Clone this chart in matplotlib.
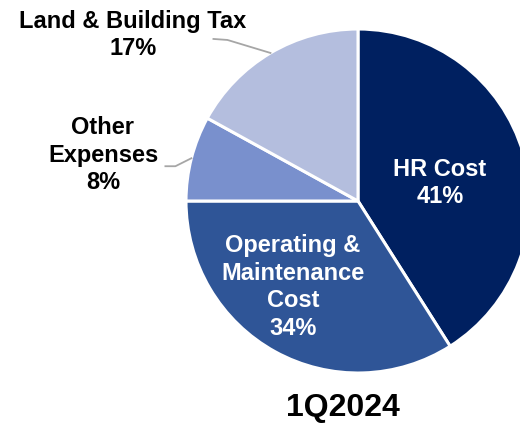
import numpy as np
import matplotlib
matplotlib.use("Agg")
import matplotlib.pyplot as plt

plt.rcParams['font.family'] = ['Liberation Sans', 'DejaVu Sans']

categories = ["HR Cost", "Operating &\nMaintenance\nCost", "Other\nExpenses", "Land & Building Tax"]
shares = [41, 34, 8, 17]
colors = ["#002060", "#2F5597", "#7990CD", "#B4BEDE"]
period = "1Q2024"

W, H = 520, 423
fig = plt.figure(figsize=(W / 100, H / 100), dpi=100)
ax = fig.add_axes([0, 0, 1, 1])

cx, cy, r = 358, 222, 172
wedges, _ = ax.pie(shares, colors=colors, startangle=90, counterclock=False,
                   center=(cx, cy), radius=r, frame=True,
                   wedgeprops=dict(edgecolor='white', linewidth=2.2))
ax.set_xlim(0, W)
ax.set_ylim(0, H)
ax.set_aspect('equal')
ax.axis('off')

def edge_point(w):
    ang = np.deg2rad((w.theta1 + w.theta2) / 2)
    return cx + r * np.cos(ang), cy + r * np.sin(ang)

fs = 17
bold = dict(fontweight='bold', ha='center', va='center', linespacing=1.27, fontsize=fs)

# labels inside the two large slices
ax.text(440, H - 183, f"{categories[0]}\n{shares[0]}%", color='white', **bold)
ax.text(293, H - 287, f"{categories[1]}\n{shares[1]}%", color='white', **bold)

# labels outside the two small slices, joined by leader lines
lc = '#A6A6A6'
ex, ey = edge_point(wedges[2])
ax.plot([ex, ex - 16, ex - 26], [ey, ey - 8, ey - 8], color=lc, lw=1.3)
ax.text(103, H - 155, f"{categories[2]}\n{shares[2]}%", color='black', **bold)

ex, ey = edge_point(wedges[3])
ax.plot([ex, ex - 43, ex - 57], [ey, ey + 13, ey + 14], color=lc, lw=1.3)
ax.text(133, H - 35, f"{categories[3]}\n{shares[3]}%", color='black', **bold)

ax.text(343, H - 408, period, fontsize=23, fontweight='bold', ha='center', va='center')

fig.savefig("out.png", dpi=100)
